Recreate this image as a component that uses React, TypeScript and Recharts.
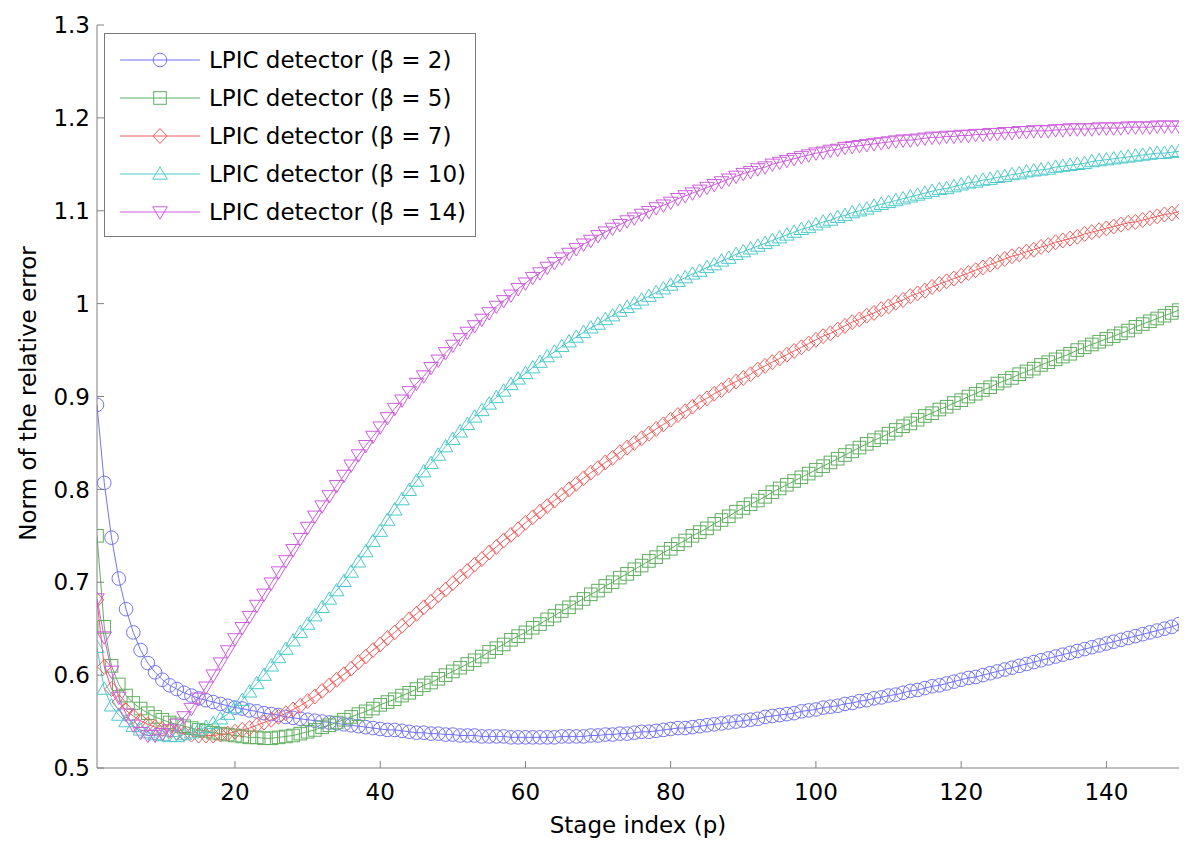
import React from 'react';
import { LineChart, Line, XAxis, YAxis, Legend } from 'recharts';

const STAGE = [
  1, 2, 3, 4, 5, 6, 7, 8, 9, 10, 11, 12, 13, 14, 15, 16, 17, 18, 19, 20,
  21, 22, 23, 24, 25, 26, 27, 28, 29, 30, 31, 32, 33, 34, 35, 36, 37, 38, 39, 40,
  41, 42, 43, 44, 45, 46, 47, 48, 49, 50, 51, 52, 53, 54, 55, 56, 57, 58, 59, 60,
  61, 62, 63, 64, 65, 66, 67, 68, 69, 70, 71, 72, 73, 74, 75, 76, 77, 78, 79, 80,
  81, 82, 83, 84, 85, 86, 87, 88, 89, 90, 91, 92, 93, 94, 95, 96, 97, 98, 99, 100,
  101, 102, 103, 104, 105, 106, 107, 108, 109, 110, 111, 112, 113, 114, 115, 116, 117, 118, 119, 120,
  121, 122, 123, 124, 125, 126, 127, 128, 129, 130, 131, 132, 133, 134, 135, 136, 137, 138, 139, 140,
  141, 142, 143, 144, 145, 146, 147, 148, 149, 150,
];

const BETA2 = [
  0.891, 0.807, 0.748, 0.704, 0.671, 0.646, 0.627, 0.613, 0.603, 0.595, 0.589, 0.585, 0.581, 0.578, 0.575, 0.573, 0.571, 0.569, 0.567, 0.565,
  0.564, 0.562, 0.561, 0.559, 0.558, 0.557, 0.555, 0.554, 0.553, 0.552, 0.551, 0.550, 0.549, 0.548, 0.547, 0.546, 0.545, 0.544, 0.543, 0.542,
  0.541, 0.541, 0.540, 0.539, 0.538, 0.538, 0.537, 0.537, 0.536, 0.536, 0.535, 0.535, 0.535, 0.534, 0.534, 0.534, 0.534, 0.533, 0.533, 0.533,
  0.533, 0.533, 0.533, 0.533, 0.534, 0.534, 0.534, 0.534, 0.535, 0.535, 0.536, 0.536, 0.537, 0.537, 0.538, 0.539, 0.539, 0.540, 0.541, 0.542,
  0.543, 0.543, 0.544, 0.545, 0.546, 0.547, 0.548, 0.549, 0.550, 0.551, 0.552, 0.553, 0.555, 0.556, 0.557, 0.558, 0.559, 0.561, 0.562, 0.563,
  0.565, 0.566, 0.567, 0.569, 0.570, 0.572, 0.573, 0.575, 0.576, 0.578, 0.579, 0.581, 0.583, 0.584, 0.586, 0.588, 0.589, 0.591, 0.593, 0.595,
  0.597, 0.598, 0.600, 0.602, 0.604, 0.606, 0.608, 0.610, 0.612, 0.614, 0.616, 0.618, 0.620, 0.622, 0.624, 0.626, 0.628, 0.630, 0.632, 0.634,
  0.636, 0.638, 0.640, 0.642, 0.644, 0.646, 0.648, 0.650, 0.652, 0.655,
];

const BETA5 = [
  0.750, 0.652, 0.610, 0.590, 0.578, 0.570, 0.564, 0.559, 0.555, 0.552, 0.549, 0.547, 0.545, 0.543, 0.541, 0.540, 0.538, 0.537, 0.536, 0.535,
  0.534, 0.533, 0.533, 0.532, 0.532, 0.533, 0.534, 0.535, 0.537, 0.539, 0.541, 0.544, 0.546, 0.549, 0.552, 0.555, 0.558, 0.561, 0.564, 0.568,
  0.571, 0.574, 0.578, 0.581, 0.585, 0.589, 0.592, 0.596, 0.600, 0.604, 0.608, 0.612, 0.616, 0.620, 0.625, 0.629, 0.633, 0.638, 0.642, 0.646,
  0.651, 0.655, 0.660, 0.664, 0.669, 0.673, 0.678, 0.682, 0.687, 0.691, 0.696, 0.700, 0.705, 0.709, 0.714, 0.718, 0.723, 0.727, 0.732, 0.736,
  0.741, 0.745, 0.750, 0.754, 0.758, 0.763, 0.767, 0.771, 0.776, 0.780, 0.784, 0.788, 0.792, 0.797, 0.801, 0.805, 0.809, 0.813, 0.817, 0.821,
  0.825, 0.829, 0.833, 0.837, 0.841, 0.845, 0.849, 0.853, 0.856, 0.860, 0.864, 0.868, 0.871, 0.875, 0.879, 0.882, 0.886, 0.889, 0.893, 0.896,
  0.900, 0.903, 0.907, 0.910, 0.914, 0.917, 0.920, 0.924, 0.927, 0.930, 0.934, 0.937, 0.940, 0.943, 0.946, 0.950, 0.953, 0.956, 0.959, 0.962,
  0.965, 0.968, 0.971, 0.975, 0.978, 0.981, 0.984, 0.987, 0.990, 0.993,
];

const BETA7 = [
  0.681, 0.609, 0.585, 0.571, 0.562, 0.556, 0.551, 0.547, 0.544, 0.542, 0.540, 0.538, 0.537, 0.536, 0.535, 0.535, 0.535, 0.536, 0.537, 0.539,
  0.541, 0.543, 0.546, 0.549, 0.552, 0.555, 0.559, 0.563, 0.567, 0.572, 0.577, 0.583, 0.589, 0.595, 0.601, 0.607, 0.614, 0.620, 0.627, 0.633,
  0.640, 0.646, 0.653, 0.660, 0.666, 0.673, 0.679, 0.686, 0.692, 0.699, 0.706, 0.712, 0.719, 0.725, 0.732, 0.738, 0.745, 0.751, 0.757, 0.764,
  0.770, 0.776, 0.782, 0.788, 0.794, 0.800, 0.806, 0.812, 0.818, 0.823, 0.829, 0.834, 0.840, 0.845, 0.850, 0.855, 0.860, 0.865, 0.870, 0.875,
  0.880, 0.884, 0.889, 0.894, 0.898, 0.903, 0.907, 0.912, 0.916, 0.920, 0.924, 0.929, 0.933, 0.937, 0.941, 0.945, 0.949, 0.953, 0.957, 0.961,
  0.965, 0.968, 0.972, 0.976, 0.980, 0.983, 0.987, 0.990, 0.994, 0.997, 1.001, 1.004, 1.008, 1.011, 1.014, 1.018, 1.021, 1.024, 1.027, 1.030,
  1.033, 1.036, 1.039, 1.042, 1.045, 1.048, 1.051, 1.053, 1.056, 1.058, 1.061, 1.063, 1.066, 1.068, 1.070, 1.072, 1.075, 1.077, 1.079, 1.081,
  1.083, 1.085, 1.087, 1.088, 1.090, 1.092, 1.094, 1.096, 1.097, 1.099,
];

const BETA10 = [
  0.630, 0.585, 0.567, 0.557, 0.550, 0.545, 0.541, 0.538, 0.536, 0.535, 0.534, 0.534, 0.536, 0.538, 0.541, 0.544, 0.548, 0.553, 0.558, 0.565,
  0.573, 0.582, 0.591, 0.600, 0.610, 0.619, 0.628, 0.637, 0.646, 0.655, 0.664, 0.673, 0.682, 0.691, 0.701, 0.711, 0.722, 0.733, 0.744, 0.755,
  0.767, 0.778, 0.789, 0.799, 0.809, 0.819, 0.828, 0.837, 0.846, 0.854, 0.862, 0.870, 0.878, 0.885, 0.892, 0.899, 0.906, 0.913, 0.919, 0.925,
  0.931, 0.937, 0.943, 0.948, 0.954, 0.959, 0.964, 0.969, 0.974, 0.978, 0.983, 0.987, 0.992, 0.996, 1.000, 1.004, 1.008, 1.012, 1.016, 1.020,
  1.024, 1.028, 1.032, 1.035, 1.039, 1.042, 1.046, 1.049, 1.053, 1.056, 1.059, 1.062, 1.065, 1.068, 1.071, 1.074, 1.077, 1.080, 1.082, 1.085,
  1.088, 1.090, 1.093, 1.095, 1.098, 1.100, 1.102, 1.105, 1.107, 1.109, 1.111, 1.113, 1.115, 1.117, 1.119, 1.121, 1.123, 1.124, 1.126, 1.128,
  1.130, 1.131, 1.133, 1.134, 1.136, 1.137, 1.139, 1.140, 1.142, 1.143, 1.144, 1.145, 1.147, 1.148, 1.149, 1.150, 1.151, 1.153, 1.154, 1.155,
  1.156, 1.157, 1.158, 1.159, 1.160, 1.161, 1.162, 1.162, 1.163, 1.164,
];

const BETA14 = [
  0.682, 0.641, 0.604, 0.576, 0.558, 0.546, 0.538, 0.535, 0.535, 0.537, 0.541, 0.547, 0.555, 0.564, 0.575, 0.587, 0.600, 0.613, 0.626, 0.639,
  0.651, 0.663, 0.675, 0.687, 0.699, 0.711, 0.723, 0.735, 0.747, 0.759, 0.771, 0.782, 0.793, 0.804, 0.815, 0.826, 0.837, 0.847, 0.857, 0.867,
  0.877, 0.887, 0.896, 0.905, 0.914, 0.922, 0.931, 0.939, 0.947, 0.955, 0.962, 0.969, 0.976, 0.983, 0.990, 0.997, 1.003, 1.009, 1.016, 1.022,
  1.028, 1.033, 1.039, 1.044, 1.049, 1.054, 1.059, 1.064, 1.068, 1.073, 1.077, 1.081, 1.085, 1.089, 1.092, 1.096, 1.099, 1.103, 1.106, 1.109,
  1.113, 1.116, 1.119, 1.122, 1.125, 1.128, 1.131, 1.134, 1.137, 1.140, 1.142, 1.145, 1.147, 1.150, 1.152, 1.154, 1.156, 1.158, 1.160, 1.162,
  1.163, 1.165, 1.166, 1.168, 1.169, 1.170, 1.171, 1.172, 1.173, 1.174, 1.175, 1.176, 1.176, 1.177, 1.178, 1.179, 1.179, 1.180, 1.180, 1.181,
  1.181, 1.182, 1.182, 1.183, 1.183, 1.184, 1.184, 1.185, 1.185, 1.186, 1.186, 1.186, 1.187, 1.187, 1.188, 1.188, 1.188, 1.188, 1.189, 1.189,
  1.189, 1.189, 1.190, 1.190, 1.190, 1.190, 1.191, 1.191, 1.191, 1.191,
];

const X_TICKS = [20, 40, 60, 80, 100, 120, 140];
const Y_TICKS = [0.5, 0.6, 0.7, 0.8, 0.9, 1, 1.1, 1.2, 1.3];

const SERIES = [
  { key: 'b2', name: 'LPIC detector (\u03b2 = 2)', color: '#7272f2', shape: 'circle', values: BETA2 },
  { key: 'b5', name: 'LPIC detector (\u03b2 = 5)', color: '#5fae5f', shape: 'square', values: BETA5 },
  { key: 'b7', name: 'LPIC detector (\u03b2 = 7)', color: '#ef5d5d', shape: 'diamond', values: BETA7 },
  { key: 'b10', name: 'LPIC detector (\u03b2 = 10)', color: '#4dcaca', shape: 'up', values: BETA10 },
  { key: 'b14', name: 'LPIC detector (\u03b2 = 14)', color: '#cc5ddc', shape: 'down', values: BETA14 },
];

const DATA = STAGE.map((p, i) => {
  const row: Record<string, number> = { p };
  SERIES.forEach((s) => {
    row[s.key] = s.values[i];
  });
  return row;
});

const FONT = '"DejaVu Sans", "Liberation Sans", Arial, sans-serif';
const AXIS_COLOR = '#808080';
const TICK_FONT = 23;
const LABEL_FONT = 23;
const X_TICK_MARGIN = 16;
const Y_TICK_MARGIN = 7;
const TICK_LEN = 7;

function Marker({ shape, cx, cy, color }: { shape: string; cx: number; cy: number; color: string }) {
  const common = { fill: 'none', stroke: color, strokeWidth: 1 };
  if (shape === 'circle') return <circle cx={cx} cy={cy} r={6.8} {...common} />;
  if (shape === 'square') return <rect x={cx - 6.3} y={cy - 6.3} width={12.6} height={12.6} {...common} />;
  if (shape === 'diamond')
    return <path d={`M${cx},${cy - 7.5}L${cx + 6.8},${cy}L${cx},${cy + 7.5}L${cx - 6.8},${cy}Z`} {...common} />;
  if (shape === 'up')
    return <path d={`M${cx},${cy - 7.2}L${cx + 7.3},${cy + 5.2}L${cx - 7.3},${cy + 5.2}Z`} {...common} />;
  return <path d={`M${cx},${cy + 7.2}L${cx + 7.3},${cy - 5.2}L${cx - 7.3},${cy - 5.2}Z`} {...common} />;
}

const makeDot = (shape: string, color: string) => (props: any) => {
  const { cx, cy, index } = props;
  if (cx == null || cy == null) return <g key={`d-${index}`} />;
  return (
    <g key={`d-${shape}-${index}`}>
      <Marker shape={shape} cx={cx} cy={cy} color={color} />
    </g>
  );
};

const XTick = (props: any) => {
  const { x, y, payload } = props;
  const axisY = y - X_TICK_MARGIN;
  return (
    <g>
      <line x1={x} x2={x} y1={axisY} y2={axisY - TICK_LEN} stroke={AXIS_COLOR} strokeWidth={1} />
      <text x={x} y={y} dy="0.71em" textAnchor="middle" fontSize={TICK_FONT} fontFamily={FONT} fill="#000">
        {payload.value}
      </text>
    </g>
  );
};

const YTick = (props: any) => {
  const { x, y, payload } = props;
  const axisX = x + Y_TICK_MARGIN;
  return (
    <g>
      <line x1={axisX} x2={axisX + TICK_LEN} y1={y} y2={y} stroke={AXIS_COLOR} strokeWidth={1} />
      <text x={x} y={y} dy="0.355em" textAnchor="end" fontSize={TICK_FONT} fontFamily={FONT} fill="#000">
        {String(payload.value)}
      </text>
    </g>
  );
};

const LegendBox = () => (
  <div
    style={{
      border: '1px solid #7a7a7a',
      background: '#fff',
      width: 372,
      padding: '7px 0 5px 0',
      boxSizing: 'border-box',
      fontFamily: FONT,
    }}
  >
    {SERIES.map((s) => (
      <div key={s.key} style={{ display: 'flex', alignItems: 'center', height: 38 }}>
        <svg width={104} height={38} style={{ display: 'block', flex: 'none' }}>
          <line x1={15} x2={95} y1={19} y2={19} stroke={s.color} strokeWidth={1} />
          <Marker shape={s.shape} cx={55} cy={19} color={s.color} />
        </svg>
        <span style={{ fontSize: LABEL_FONT, color: '#000', whiteSpace: 'nowrap', lineHeight: '38px' }}>{s.name}</span>
      </div>
    ))}
  </div>
);

export default function App() {
  return (
    <div style={{ width: 1192, height: 836, background: '#fff' }}>
      <LineChart
        width={1192}
        height={836}
        data={DATA}
        margin={{ top: 17, right: 21, bottom: 36, left: 8 }}
        style={{ fontFamily: FONT }}
      >
        <XAxis
          xAxisId="x"
          dataKey="p"
          type="number"
          domain={[1, 150]}
          ticks={X_TICKS}
          allowDataOverflow
          height={40}
          tickSize={0}
          tickMargin={X_TICK_MARGIN}
          tickLine={false}
          tick={<XTick />}
          stroke={AXIS_COLOR}
          label={{
            value: 'Stage index (p)',
            position: 'bottom',
            offset: 9,
            style: { fontSize: LABEL_FONT, fill: '#000', fontFamily: FONT },
          }}
        />
        <XAxis
          xAxisId="top"
          orientation="top"
          dataKey="p"
          type="number"
          domain={[1, 150]}
          ticks={X_TICKS}
          allowDataOverflow
          height={0}
          mirror
          tick={false}
          tickSize={TICK_LEN}
          stroke={AXIS_COLOR}
        />
        <YAxis
          yAxisId="y"
          type="number"
          domain={[0.5, 1.3]}
          ticks={Y_TICKS}
          allowDataOverflow
          width={81}
          tickSize={0}
          tickMargin={Y_TICK_MARGIN}
          tickLine={false}
          tick={<YTick />}
          stroke={AXIS_COLOR}
          label={{
            value: 'Norm of the relative error',
            angle: -90,
            position: 'insideLeft',
            offset: 12,
            dy: -3,
            style: { textAnchor: 'middle', fontSize: LABEL_FONT, fill: '#000', fontFamily: FONT },
          }}
        />
        <YAxis
          yAxisId="right"
          orientation="right"
          type="number"
          domain={[0.5, 1.3]}
          ticks={Y_TICKS}
          allowDataOverflow
          width={0}
          mirror
          tick={false}
          tickSize={TICK_LEN}
          stroke={AXIS_COLOR}
        />
        <Legend
          layout="vertical"
          align="center"
          verticalAlign="middle"
          content={<LegendBox />}
          wrapperStyle={{ left: 96, top: 25, width: 'auto', height: 'auto' }}
        />
        {SERIES.map((s) => (
          <Line
            key={s.key}
            xAxisId="x"
            yAxisId="y"
            dataKey={s.key}
            name={s.name}
            type="linear"
            stroke={s.color}
            strokeWidth={1}
            dot={makeDot(s.shape, s.color)}
            activeDot={false}
            isAnimationActive={false}
          />
        ))}
      </LineChart>
    </div>
  );
}
